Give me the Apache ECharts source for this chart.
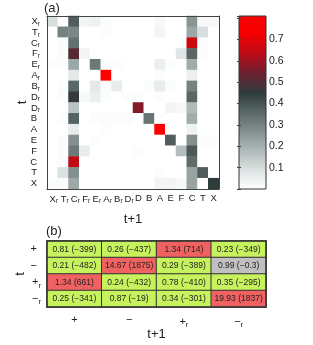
<!DOCTYPE html>
<html><head><meta charset="utf-8">
<script src="https://cdn.jsdelivr.net/npm/echarts@6/dist/echarts.min.js"></script>
<style>html,body{margin:0;padding:0;background:#fff}#c{width:313px;height:345px}</style>
</head><body><div id="c"></div>
<script>
// ---------- data ----------
const xCats = ['X_r','T_r','C_r','F_r','E_r','A_r','B_r','D_r','D','B','A','E','F','C','T','X'];
const yCats = ['X_r','T_r','C_r','F_r','E_r','A_r','B_r','D_r','D_r','B','A','E','F','C','T','X'];
const heatRows = [
  [0.10,0.01,0.38,0.03,0.04,0.01,0,0,0,0,0.02,0,0,0.26,0.02,0.02],
  [0,0.30,0.29,0,0,0.01,0,0,0,0,0.03,0,0,0.22,0.10,0],
  [0,0.01,0.34,0,0,0,0,0,0,0,0,0,0,0.66,0.01,0],
  [0,0.01,0.51,0.03,0,0,0,0,0,0,0,0,0.08,0.36,0.01,0],
  [0.01,0.01,0.22,0,0.32,0.01,0.01,0,0,0,0.05,0.01,0,0.21,0,0],
  [0,0,0.07,0,0,0.80,0,0,0,0,0.01,0,0,0.05,0,0],
  [0,0.01,0.36,0,0.07,0.01,0.06,0,0,0.01,0.06,0.01,0,0.30,0,0],
  [0,0.01,0.46,0.02,0.05,0.01,0,0.01,0.01,0,0.01,0,0,0.36,0,0],
  [0,0,0.16,0,0,0,0,0,0.57,0,0,0.03,0.02,0.18,0,0],
  [0,0.01,0.37,0,0.01,0.01,0.01,0.01,0,0.33,0,0,0,0.21,0,0],
  [0,0,0.06,0,0,0.01,0,0,0,0,0.80,0,0,0.04,0,0],
  [0,0.01,0.27,0,0.01,0,0,0,0,0,0,0.38,0,0.27,0.01,0.01],
  [0,0.01,0.32,0.06,0,0,0,0,0.01,0,0,0,0.17,0.39,0,0],
  [0,0.01,0.64,0,0,0,0,0,0,0,0,0,0,0.35,0,0],
  [0,0.09,0.27,0,0,0,0,0,0,0,0.01,0,0,0.23,0.38,0],
  [0.01,0.01,0.22,0,0,0,0,0,0,0,0.03,0.03,0.02,0.23,0,0.45]
];
const cbMin = 0, cbMax = 0.81;
const cbTicks = [0.1,0.2,0.3,0.4,0.5,0.6,0.7];
const cmap = ['#ffffff','#dce2e2','#b0baba','#84908f','#5a6767','#2f3c3c','#6a2030','#b80c18','#f20000','#ff0000'];

const states = ['+','\u2212','+_r','\u2212_r'];
const ratioRows = [
  [0.81,0.26,1.34,0.23],
  [0.21,14.67,0.29,0.99],
  [1.34,0.24,0.78,0.35],
  [0.25,0.87,0.34,19.93]
];
const zRows = [
  [-399,-437,714,-349],
  [-482,1875,-389,-0.3],
  [661,-432,-410,-295],
  [-341,-19,-301,1837]
];

// ---------- build ----------
const fam = '"Liberation Sans", Arial, Helvetica, sans-serif';
const heatData = [];
heatRows.forEach((row, j) => row.forEach((v, i) => heatData.push([i, j, v])));
const tabData = [];
ratioRows.forEach((row, j) => row.forEach((v, i) => tabData.push([i, j, v, zRows[j][i]])));

function sub(name, lead) {
  if (name.endsWith('_r')) return (lead === true ? '{g|}' : '') + '{m|' + name.slice(0, -2) + '}{s|r}';
  return lead === 'pad' ? '{m|' + name + '}{g|}' : '{m|' + name + '}';
}
const richA = {
  m: {fontSize: 9.5, fontFamily: fam, color: '#222'},
  s: {fontSize: 6.5, fontFamily: fam, color: '#222', padding: [5, 0, 0, 0]},
  g: {width: 3}
};
const richB = {
  m: {fontSize: 11, fontFamily: fam, color: '#222'},
  s: {fontSize: 7.5, fontFamily: fam, color: '#222', padding: [7, 0, 0, 0]},
  g: {width: 4}
};
const lineC = '#444';
const gradStops = cmap.map((c, k) => ({offset: k / (cmap.length - 1), color: c}));
const nameStyle = {fontSize: 13, fontFamily: fam, color: '#222'};

const option = {
  animation: false,
  backgroundColor: '#fff',
  title: [
    {text: '(a)', left: 44, top: 2, padding: 0, textStyle: {fontSize: 13, fontWeight: 'normal', fontFamily: fam, color: '#222'}},
    {text: '(b)', left: 46, top: 225, padding: 0, textStyle: {fontSize: 13, fontWeight: 'normal', fontFamily: fam, color: '#222'}}
  ],
  grid: [
    {left: 47, top: 16, width: 172, height: 173},
    {left: 239, top: 16, width: 27, height: 173},
    {left: 47, top: 241, width: 219, height: 66}
  ],
  xAxis: [
    {type: 'category', gridIndex: 0, data: xCats, z: 10,
     name: 't+1', nameLocation: 'middle', nameGap: 24, nameMoveOverlap: false,
     nameTextStyle: nameStyle,
     axisLine: {lineStyle: {color: lineC}},
     axisTick: {inside: true, alignWithLabel: true, length: 2, lineStyle: {color: lineC}},
     axisLabel: {margin: 4, interval: 0, formatter: (v) => sub(v, true), rich: richA}},
    {type: 'category', gridIndex: 0, data: xCats, position: 'top', z: 10,
     axisLine: {onZero: false, lineStyle: {color: lineC}},
     axisTick: {inside: true, alignWithLabel: true, length: 2, lineStyle: {color: lineC}},
     axisLabel: {show: false}},
    {type: 'value', gridIndex: 1, min: 0, max: 1, show: false},
    {type: 'category', gridIndex: 2, data: states, z: 10,
     name: 't+1', nameLocation: 'middle', nameGap: 21, nameMoveOverlap: false,
     nameTextStyle: nameStyle,
     axisLine: {lineStyle: {color: '#333', width: 1.5}},
     axisTick: {show: false},
     axisLabel: {margin: 7, interval: 0, formatter: (v) => sub(v, false), rich: richB}},
    {type: 'category', gridIndex: 2, data: states, position: 'top', z: 10,
     axisLine: {onZero: false, lineStyle: {color: '#333', width: 1.5}},
     axisTick: {show: false}, axisLabel: {show: false}}
  ],
  yAxis: [
    {type: 'category', gridIndex: 0, data: yCats, inverse: true, z: 10,
     name: 't', nameLocation: 'middle', nameGap: 18, nameMoveOverlap: false,
     nameTextStyle: nameStyle,
     axisLine: {lineStyle: {color: lineC}},
     axisTick: {inside: true, alignWithLabel: true, length: 2, lineStyle: {color: lineC}},
     axisLabel: {margin: 7, interval: 0, formatter: (v, i) => sub(yCats[i], 'pad'), rich: richA}},
    {type: 'category', gridIndex: 0, data: yCats, inverse: true, position: 'right', z: 10,
     axisLine: {onZero: false, lineStyle: {color: lineC}},
     axisTick: {inside: true, alignWithLabel: true, length: 2, lineStyle: {color: lineC}},
     axisLabel: {show: false}},
    {type: 'value', gridIndex: 1, min: cbMin, max: cbMax, interval: 0.1, position: 'right', z: 10,
     splitLine: {show: false},
     axisLine: {show: false},
     axisTick: {inside: true, length: 2, lineStyle: {color: lineC}},
     axisLabel: {margin: 3, fontSize: 10.5, fontFamily: fam, color: '#222',
       formatter: (v) => cbTicks.some(t => Math.abs(t - v) < 1e-6) ? v.toFixed(1) : ''}},
    {type: 'value', gridIndex: 1, min: cbMin, max: cbMax, interval: 0.1, position: 'left', z: 10,
     splitLine: {show: false}, axisLine: {show: false},
     axisTick: {inside: true, length: 2, lineStyle: {color: lineC}},
     axisLabel: {show: false}},
    {type: 'category', gridIndex: 2, data: states, inverse: true, z: 10,
     name: 't', nameLocation: 'middle', nameGap: 20, nameMoveOverlap: false,
     nameTextStyle: nameStyle,
     axisLine: {lineStyle: {color: '#333', width: 1.5}},
     axisTick: {show: false},
     axisLabel: {margin: 6, interval: 0, formatter: (v) => sub(v, 'pad'), rich: richB}},
    {type: 'category', gridIndex: 2, data: states, inverse: true, position: 'right', z: 10,
     axisLine: {onZero: false, lineStyle: {color: '#333', width: 1.5}},
     axisTick: {show: false}, axisLabel: {show: false}}
  ],
  visualMap: [
    {type: 'continuous', show: false, seriesIndex: 0, min: cbMin, max: cbMax, dimension: 2,
     inRange: {color: cmap}},
    {type: 'piecewise', show: false, seriesIndex: 2, dimension: 3,
     pieces: [{lt: -2, color: '#c6f25e'}, {gte: -2, lte: 2, color: '#c0c0c0'}, {gt: 2, color: '#f06262'}]}
  ],
  series: [
    {type: 'heatmap', xAxisIndex: 0, yAxisIndex: 0, data: heatData,
     emphasis: {disabled: true}, itemStyle: {borderWidth: 0}},
    {type: 'custom', xAxisIndex: 2, yAxisIndex: 2, data: [[0, cbMin, cbMax]],
     encode: {x: 0, y: [1, 2]}, silent: true,
     renderItem: (params, api) => {
       const top = api.coord([0, api.value(2)]);
       const bot = api.coord([0, api.value(1)]);
       const cs = params.coordSys;
       return {type: 'rect', shape: {x: cs.x, y: top[1], width: cs.width, height: bot[1] - top[1]},
         style: {fill: new echarts.graphic.LinearGradient(0, 1, 0, 0, gradStops), stroke: '#333', lineWidth: 1}};
     }},
    {type: 'heatmap', xAxisIndex: 3, yAxisIndex: 4, data: tabData,
     emphasis: {disabled: true},
     itemStyle: {borderColor: '#333', borderWidth: 1},
     label: {show: true, fontSize: 8.5, fontFamily: fam, color: '#222',
       formatter: (p) => p.data[2].toFixed(2) + ' (' + (p.data[3] < 0 ? '\u2212' : '') + Math.abs(p.data[3]) + ')'}}
  ]
};
const chart = echarts.init(document.getElementById('c'), null, {renderer: 'canvas'});
chart.setOption(option);
</script></body></html>
